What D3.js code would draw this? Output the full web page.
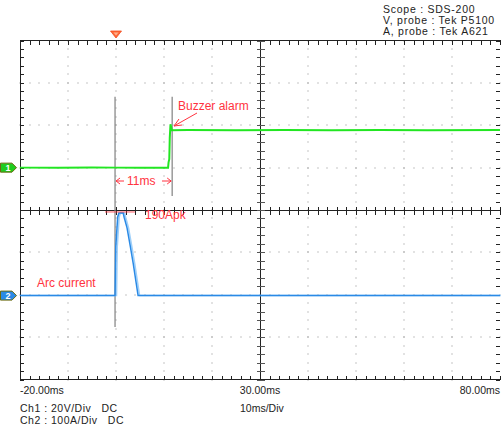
<!DOCTYPE html>
<html><head><meta charset="utf-8">
<script src="https://cdn.jsdelivr.net/npm/d3@7"></script>
<style>
html,body{margin:0;padding:0;background:#fff;}
svg{display:block;font-family:"Liberation Sans",Arial,sans-serif;}
</style></head>
<body>
<script>
// ---- data ----
const timeDomain = [-20, 80];          // ms
const timeTickLabels = ["-20.00ms", "30.00ms", "80.00ms"];
const timeTickValues = [-20, 30, 80];
const infoLines = ["Scope : SDS-200", "V, probe : Tek P5100", "A, probe : Tek A621"];
const bottomLines = ["Ch1 : 20V/Div   DC", "Ch2 : 100A/Div   DC"];
const timebaseLabel = "10ms/Div";
// Ch1 voltage (V), 20 V/div
const ch1Time = [-20, -12, -5, 0, 5, 10.85, 10.95, 11.1, 11.2, 11.35, 11.5, 11.65, 15, 25, 35, 45, 55, 65, 80];
const ch1Volt = [0, -0.1, 0.1, 0, 0, 0, 2.5, 4, 14, 20.5, 19, 17.6, 17.7, 17.6, 17.7, 17.6, 17.7, 17.6, 17.7];
// Ch2 current (A), 100 A/div
const ch2Time = [-20, -0.2, -0.05, 0.35, 0.6, 1.5, 1.7, 2.3, 3.0, 3.6, 4.2, 4.6, 10, 30, 50, 80];
const ch2Amp  = [0, 0, 115, 185, 195, 195, 185, 160, 115, 75, 30, 0, 0, 0, 0, 0];
const cursorTimes = [-0.2, 11.7];
const triggerTime = 0;

// ---- layout ----
const W = 501, H = 427;
const L = 20, R = 501, T = 40.5, B = 379.5;
const x = d3.scaleLinear().domain(timeDomain).range([L, L + 480]);
const yDiv = d3.scaleLinear().domain([-4, 4]).range([B, T]);
const ch1Offset = 1, ch2Offset = -2.02;
const y1 = v => yDiv(ch1Offset + v / 20);
const y2 = a => yDiv(ch2Offset + a / 100);

const svg = d3.select("body").append("svg").attr("width", W).attr("height", H);

// grid dots
const g = svg.append("g");
const xDivs = d3.range(-20, 81, 10);
const yDivs = d3.range(-4, 5, 1);
const xMinor = d3.range(-20, 80.01, 2);
const yMinor = d3.range(-4, 4.01, 0.2);
xDivs.filter(d => d > -20 && d < 80 && d !== 30).forEach(t => {
  yMinor.forEach(v => g.append("rect").attr("x", Math.round(x(t)) - 0.5).attr("y", Math.round(yDiv(v)) - 0.5)
    .attr("width", 1).attr("height", 1).attr("fill", "#8a8a8a"));
});
yDivs.filter(d => d > -4 && d < 4 && d !== 0).forEach(v => {
  xMinor.forEach(t => g.append("rect").attr("x", Math.round(x(t)) - 0.5).attr("y", Math.round(yDiv(v)) - 0.5)
    .attr("width", 1).attr("height", 1).attr("fill", "#8a8a8a"));
});

// frame
const frame = svg.append("g").attr("stroke", "#222").attr("stroke-width", 1).attr("shape-rendering", "crispEdges");
frame.append("line").attr("x1", L).attr("x2", R).attr("y1", T).attr("y2", T);
frame.append("line").attr("x1", L).attr("x2", R).attr("y1", B).attr("y2", B);
frame.append("line").attr("x1", L).attr("x2", L).attr("y1", T).attr("y2", B);
// edge ticks
xMinor.forEach(t => {
  const xx = Math.round(x(t)) + 0.5;
  frame.append("line").attr("x1", xx).attr("x2", xx).attr("y1", T).attr("y2", T + 4);
  frame.append("line").attr("x1", xx).attr("x2", xx).attr("y1", B).attr("y2", B - 4);
});
yMinor.forEach(v => {
  const yy = Math.round(yDiv(v)) + 0.5;
  frame.append("line").attr("x1", L).attr("x2", L + 4).attr("y1", yy).attr("y2", yy);
  frame.append("line").attr("x1", 500).attr("x2", 496).attr("y1", yy).attr("y2", yy);
});
// center cross
const cx = Math.round(x(30)) + 0.5, cy = Math.round(yDiv(0)) + 0.5;
frame.append("line").attr("x1", L).attr("x2", R).attr("y1", cy).attr("y2", cy);
frame.append("line").attr("x1", cx).attr("x2", cx).attr("y1", T).attr("y2", B);
xMinor.forEach(t => {
  const xx = Math.round(x(t)) + 0.5;
  frame.append("line").attr("x1", xx).attr("x2", xx).attr("y1", cy - 4).attr("y2", cy + 4);
});
yMinor.forEach(v => {
  const yy = Math.round(yDiv(v)) + 0.5;
  frame.append("line").attr("x1", cx - 4).attr("x2", cx + 4).attr("y1", yy).attr("y2", yy).attr("stroke", "#555");
});

// cursors
const cursorExt = [[2.67, -2.76], [2.67, 0.33]];
cursorTimes.forEach((t, i) => {
  svg.append("line").attr("x1", x(t)).attr("x2", x(t))
    .attr("y1", yDiv(cursorExt[i][0])).attr("y2", yDiv(cursorExt[i][1]))
    .attr("stroke", "#808080").attr("stroke-width", 1.2);
});

// traces
const ch1 = ch1Time.map((t, i) => [t, ch1Volt[i]]);
const ch2 = ch2Time.map((t, i) => [t, ch2Amp[i]]);
const line1 = d3.line().x(d => x(d[0])).y(d => y1(d[1]));
const line2 = d3.line().x(d => x(d[0])).y(d => y2(d[1]));
svg.append("path").attr("d", line2(ch2)).attr("fill", "none").attr("stroke", "#9fd0fa")
  .attr("stroke-width", 1.5).attr("transform", "translate(1.5,0)");
svg.append("path").attr("d", line2(ch2)).attr("fill", "none").attr("stroke", "#2a8ae6").attr("stroke-width", 1.5);
svg.append("path").attr("d", line1(ch1)).attr("fill", "none").attr("stroke", "#22e622").attr("stroke-width", 2);

// channel markers
function chMarker(yy, fill, label) {
  const gm = svg.append("g").attr("transform", `translate(0,${yy})`);
  gm.append("path").attr("d", "M0.5,-4.5 L12,-4.5 L16.5,0 L12,4.5 L0.5,4.5 Z")
    .attr("fill", fill).attr("stroke", "#6b6b10").attr("stroke-width", 1);
  gm.append("text").attr("x", 8).attr("y", 3.5).attr("text-anchor", "middle")
    .attr("font-size", 9).attr("font-weight", "bold").attr("fill", "#fff").text(label);
}
chMarker(y1(0), "#1fcc1f", "1");
chMarker(y2(0), "#2a8ae6", "2");

// trigger marker
const tx = x(triggerTime);
svg.append("path").attr("d", `M${tx - 5.5},31 L${tx + 5.5},31 L${tx},38 Z`).attr("fill", "#ff6a3a").attr("stroke", "#f04a1a").attr("stroke-width", 0.8);
svg.append("path").attr("d", `M${tx - 2.5},32.5 L${tx + 2.5},32.5 L${tx},35.5 Z`).attr("fill", "#ffb08a");

// info text
svg.append("g").selectAll("text").data(infoLines).join("text")
  .attr("x", 383).attr("y", (d, i) => 12.5 + i * 11).attr("font-size", 10.5)
  .attr("letter-spacing", 0.75).attr("fill", "#222").text(d => d);

// time labels
svg.append("g").selectAll("text").data(timeTickValues).join("text")
  .attr("x", d => x(d)).attr("y", 394).attr("font-size", 10.5).attr("fill", "#222")
  .attr("text-anchor", (d, i) => i === 0 ? "start" : i === 2 ? "end" : "middle")
  .text((d, i) => timeTickLabels[i]);
svg.append("g").selectAll("text").data(bottomLines).join("text")
  .attr("x", 20).attr("y", (d, i) => 411.5 + i * 12.5).attr("font-size", 10.5).attr("fill", "#222")
  .attr("letter-spacing", 0.5).attr("xml:space", "preserve").style("white-space", "pre").text(d => d);
svg.append("text").attr("x", 240).attr("y", 411.5).attr("font-size", 10.5).attr("fill", "#222").text(timebaseLabel);

// annotations
const red = "#ff3340";
const ann = svg.append("g").attr("fill", red);
ann.append("text").attr("x", 178).attr("y", 110).attr("font-size", 12).text("Buzzer alarm");
ann.append("text").attr("x", 127).attr("y", 185).attr("font-size", 12).text("11ms");
ann.append("text").attr("x", 145).attr("y", 219).attr("font-size", 12).text("190Apk");
ann.append("text").attr("x", 37).attr("y", 287).attr("font-size", 12).text("Arc current");
const st = svg.append("g").attr("stroke", red).attr("fill", "none").attr("stroke-width", 1);
// buzzer arrow
st.append("line").attr("x1", 197).attr("y1", 113).attr("x2", 174).attr("y2", 126);
st.append("path").attr("d", "M179,119 L174,126 L182,125");
// 11ms arrows
const yA = 181;
st.append("line").attr("x1", x(cursorTimes[0]) + 1).attr("x2", 124).attr("y1", yA).attr("y2", yA);
st.append("path").attr("d", `M${x(cursorTimes[0]) + 5},${yA - 3} L${x(cursorTimes[0]) + 1},${yA} L${x(cursorTimes[0]) + 5},${yA + 3}`);
st.append("line").attr("x1", 162).attr("x2", x(cursorTimes[1]) - 1).attr("y1", yA).attr("y2", yA);
st.append("path").attr("d", `M${x(cursorTimes[1]) - 5},${yA - 3} L${x(cursorTimes[1]) - 1},${yA} L${x(cursorTimes[1]) - 5},${yA + 3}`);
// peak marker line
st.append("line").attr("x1", 105).attr("x2", 135).attr("y1", y2(195) - 1).attr("y2", y2(195) - 1).attr("stroke-opacity", 0.8);
</script>
</body></html>
